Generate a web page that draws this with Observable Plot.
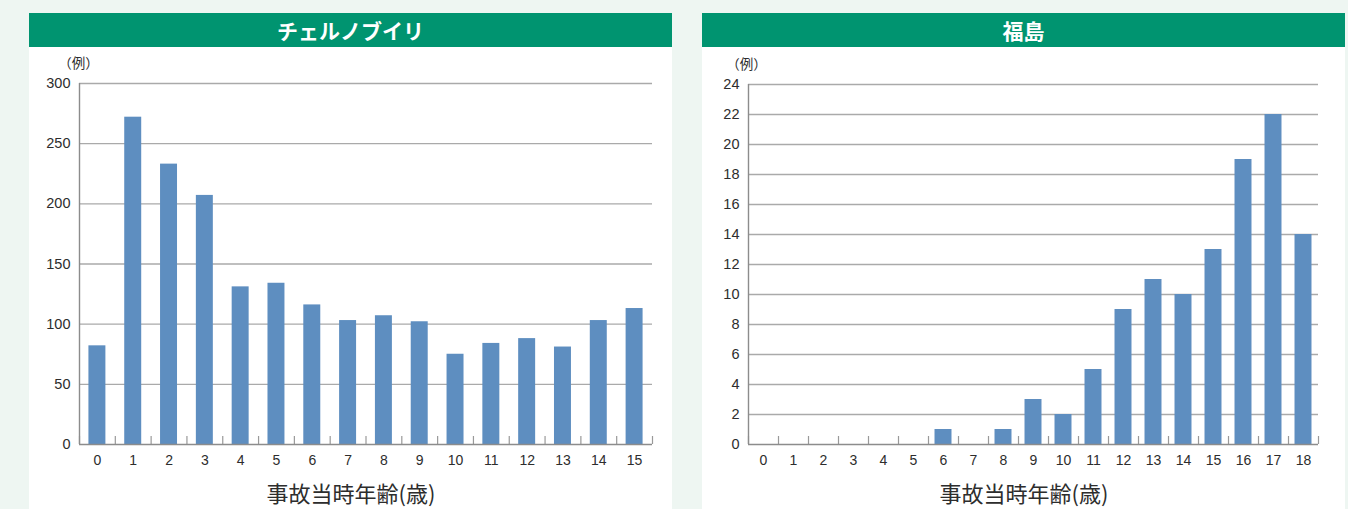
<!DOCTYPE html>
<html>
<head>
<meta charset="utf-8">
<script src="https://cdn.jsdelivr.net/npm/d3@7"></script>
<script src="https://cdn.jsdelivr.net/npm/@observablehq/plot@0.6"></script>
<style>
  html, body { margin: 0; padding: 0; }
  body { width: 1348px; height: 509px; background: #eef6f2; position: relative; overflow: hidden;
         font-family: "Liberation Sans", Arial, "Noto Sans CJK JP", sans-serif; }
  .panel { position: absolute; top: 13px; width: 643px; height: 496px; background: #ffffff; }
  .header { height: 34px; background: #009470; color: #ffffff; text-align: center;
            font-family: "Noto Sans CJK JP", sans-serif; font-weight: bold; font-size: 21px; line-height: 34px; }
</style>
</head>
<body>
<div class="panel" id="left" style="left:29px"><div class="header" id="lh"></div></div>
<div class="panel" id="right" style="left:702px"><div class="header" id="rh"></div></div>
<script>
// ---- data ----
const chernobylAges = d3.range(0, 16);
const chernobylCases = [82, 272, 233, 207, 131, 134, 116, 103, 107, 102, 75, 84, 88, 81, 103, 113];
const chernobylYTicks = [0, 50, 100, 150, 200, 250, 300];

const fukushimaAges = d3.range(0, 19);
const fukushimaCases = [0, 0, 0, 0, 0, 0, 1, 0, 1, 3, 2, 5, 9, 11, 10, 13, 19, 22, 14];
const fukushimaYTicks = [0, 2, 4, 6, 8, 10, 12, 14, 16, 18, 20, 22, 24];

const panelTitles = ["チェルノブイリ", "福島"];
const unitLabel = "（例）";
const xTitle = "事故当時年齢(歳)";

const barColor = "#5e8ec0";
const textColor = "#2d2d2d";
const cjkFont = "'Noto Sans CJK JP', sans-serif";

document.getElementById("lh").textContent = panelTitles[0];
document.getElementById("rh").textContent = panelTitles[1];

function drawPanel(el, ages, cases, yTicks, opts) {
  const data = ages.map((a, i) => ({age: a, cases: cases[i]}));
  const yMax = yTicks[yTicks.length - 1];
  const plotH = opts.height - opts.marginTop - opts.marginBottom;
  const tickLen = yMax * 8 / plotH;
  const hw = opts.barHalf;
  const bounds = d3.range(ages.length + 1).map(i => ages[0] + i - 0.5);
  const chart = Plot.plot({
    width: 643,
    height: opts.height,
    marginLeft: opts.marginLeft,
    marginRight: opts.marginRight,
    marginTop: opts.marginTop,
    marginBottom: opts.marginBottom,
    style: {fontFamily: "'Liberation Sans', Arial, sans-serif", color: textColor, background: "transparent"},
    x: {domain: [ages[0] - 0.5, ages[ages.length - 1] + 0.5], axis: null},
    y: {domain: [0, yMax], axis: null},
    marks: [
      Plot.ruleY(yTicks.filter(t => t > 0), {stroke: "#aaaaaa", strokeWidth: 1.4}),
      Plot.rectY(data.filter(d => d.cases > 0), {
        x1: d => d.age - hw, x2: d => d.age + hw, y1: 0, y2: "cases", fill: barColor
      }),
      Plot.ruleX(bounds, {y1: 0, y2: tickLen, stroke: "#999999", strokeWidth: 1.2}),
      Plot.ruleX([ages[0] - 0.5], {stroke: "#8c8c8c", strokeWidth: 1.4}),
      Plot.ruleY([0], {stroke: "#8c8c8c", strokeWidth: 1.6}),
      Plot.axisY({ticks: yTicks, tickSize: 0, tickPadding: 9, fontSize: 14.5, tickFormat: d => String(d), label: null}),
      Plot.axisX({ticks: ages, tickSize: 0, tickPadding: 11, fontSize: 14, tickFormat: d => String(d), label: null}),
      Plot.text([unitLabel], {frameAnchor: "top-left", lineAnchor: "middle", textAnchor: "middle",
        dy: -20, dx: opts.unitDx, fontSize: 13.5, fontFamily: cjkFont, fill: textColor}),
      Plot.text([xTitle], {frameAnchor: "bottom", lineAnchor: "middle", dy: 50,
        dx: (opts.marginRight - opts.marginLeft) / 2, fontSize: 22, fontFamily: cjkFont, fill: textColor})
    ]
  });
  chart.style.display = "block";
  el.appendChild(chart);
}

drawPanel(document.getElementById("left"), chernobylAges, chernobylCases, chernobylYTicks,
  {height: 462, marginLeft: 50, marginRight: 20, marginTop: 36, marginBottom: 65, barHalf: 0.237, unitDx: -1});
drawPanel(document.getElementById("right"), fukushimaAges, fukushimaCases, fukushimaYTicks,
  {height: 462, marginLeft: 46, marginRight: 27, marginTop: 37, marginBottom: 65, barHalf: 0.283, unitDx: -2});
</script>
</body>
</html>
